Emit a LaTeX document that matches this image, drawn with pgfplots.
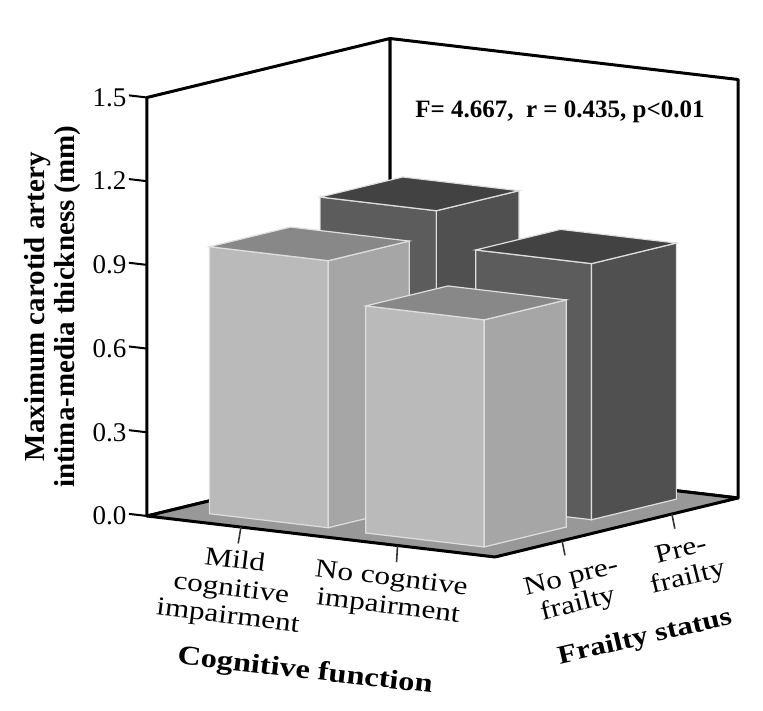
\documentclass[border=0pt]{standalone}
\usepackage{fontspec}
\setmainfont{Liberation Serif}
\newfontfamily\palfont{Liberation Serif}[FakeStretch=1.2]
\usepackage{pgfplots}
\pgfplotsset{compat=1.18}

\definecolor{lightfront}{RGB}{186,186,186}
\definecolor{lightside}{RGB}{166,166,166}
\definecolor{lighttop}{RGB}{136,136,136}
\definecolor{darkfront}{RGB}{92,92,92}
\definecolor{darkside}{RGB}{80,80,80}
\definecolor{darktop}{RGB}{66,66,66}
\definecolor{edge}{RGB}{222,222,222}
\definecolor{floorgray}{RGB}{152,152,152}

% a0 a1 b0 b1 height front side top
\newcommand\drawbar[8]{
  \addplot3[fill=#6,draw=edge,line width=1.2pt] coordinates {(#1,#3,0) (#2,#3,0) (#2,#3,#5) (#1,#3,#5)} --cycle;
  \addplot3[fill=#7,draw=edge,line width=1.2pt] coordinates {(#2,#3,0) (#2,#4,0) (#2,#4,#5) (#2,#3,#5)} --cycle;
  \addplot3[fill=#8,draw=edge,line width=1.2pt] coordinates {(#1,#3,#5) (#2,#3,#5) (#2,#4,#5) (#1,#4,#5)} --cycle;
}

\begin{document}
\begin{tikzpicture}
\useasboundingbox (-147pt,-195pt) rectangle (616pt,516pt);
\begin{axis}[
    anchor=origin, at={(0pt,0pt)},
    x={(348pt,-41pt)}, y={(243pt,59pt)}, z={(0pt,279pt)},
    xmin=0, xmax=1, ymin=0, ymax=1, zmin=0, zmax=1.5,
    clip=false,
    axis line style={draw=none},
    tick style={draw=none},
    ztick={0,0.3,0.6,0.9,1.2,1.5},
    xtick={0.27,0.72},
    ytick={0.276,0.728},
    xticklabels={{Mild\\cognitive\\impairment},{No cogntive\\impairment}},
    yticklabels={{No pre-\\frailty},{Pre-\\frailty}},
    xticklabel style={font=\palfont\fontsize{26}{28}\selectfont,align=center,rotate=-7,anchor=north,xshift=-2pt,yshift=-20pt},
    yticklabel style={font=\palfont\fontsize{26}{28}\selectfont,align=center,rotate=14,anchor=north,xshift=0pt,yshift=-24pt},
    zticklabel style={font=\fontsize{27}{30}\selectfont,anchor=east,xshift=-17pt},
    /pgf/number format/assume math mode=true,
    /pgf/number format/fixed,
    /pgf/number format/fixed zerofill,
    /pgf/number format/precision=1,
    zlabel={Maximum carotid artery\\intima-media thickness (mm)},
    every axis z label/.style={at={(axis cs:0,0,0.75)},rotate=90,anchor=center,
      xshift=0pt,yshift=94pt,align=center,font=\bfseries\fontsize{29}{30}\selectfont},
]
% walls and floor
\addplot3[fill=white,draw=black,line width=3pt,line join=round] coordinates {(0,0,0) (0,0,1.5) (0,1,1.5) (0,1,0)} --cycle;
\addplot3[fill=white,draw=black,line width=3pt,line join=round] coordinates {(0,1,0) (0,1,1.5) (1,1,1.5) (1,1,0)} --cycle;
\addplot3[fill=floorgray,draw=black,line width=3pt,line join=round] coordinates {(0,0,0) (1,0,0) (1,1,0) (0,1,0)} --cycle;
% tick marks
\foreach \t in {0,0.3,0.6,0.9,1.2,1.5} {
  \edef\temp{\noexpand\addplot3[black,line width=2pt] coordinates {(0,0,\t) (-0.052,0,\t)};}
  \temp
}
\addplot3[black!80,line width=1.6pt] coordinates {(0.27,0,0) (0.262,0,-0.06)};
\addplot3[black!80,line width=1.6pt] coordinates {(0.72,0,0) (0.717,0,-0.06)};
\addplot3[black!80,line width=1.6pt] coordinates {(1,0.276,0) (1,0.288,-0.055)};
\addplot3[black!80,line width=1.6pt] coordinates {(1,0.728,0) (1,0.74,-0.055)};
% bars, back to front
\drawbar{0.11}{0.444}{0.555}{0.895}{1.042}{darkfront}{darkside}{darktop}
\drawbar{0.557}{0.89}{0.555}{0.904}{0.918}{darkfront}{darkside}{darktop}
\drawbar{0.103}{0.444}{0.11}{0.443}{0.957}{lightfront}{lightside}{lighttop}
\drawbar{0.559}{0.899}{0.10}{0.438}{0.814}{lightfront}{lightside}{lighttop}
\end{axis}
\begin{scope}[x=1pt,y=-1pt,shift={(-147pt,516pt)}]
\node[font=\bfseries\fontsize{25}{28}\selectfont] at (560,112) {F= 4.667,\ \ r = 0.435, p<0.01};
\node[font=\bfseries\palfont\fontsize{27}{30}\selectfont,rotate=-6.5] at (305,672) {Cognitive function};
\node[font=\bfseries\palfont\fontsize{26}{30}\selectfont,rotate=13] at (645,638) {Frailty status};
\end{scope}
\end{tikzpicture}
\end{document}
